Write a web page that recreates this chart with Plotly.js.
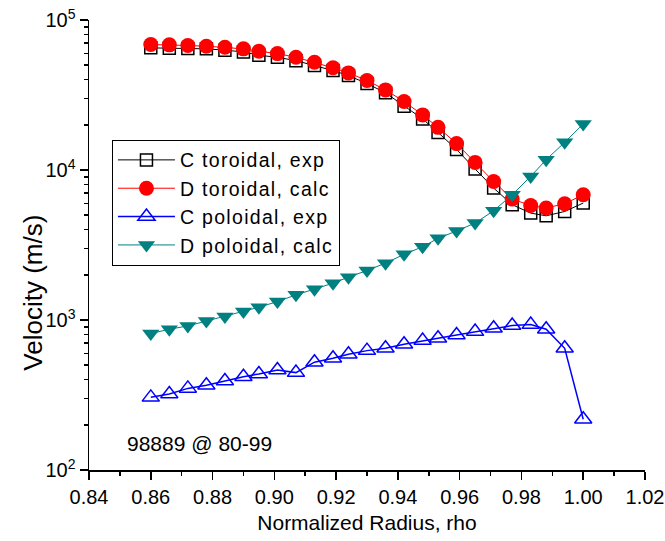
<!DOCTYPE html>
<html>
<head>
<meta charset="utf-8">
<script src="https://cdn.plot.ly/plotly-3.0.1.min.js"></script>
<style>
html,body{margin:0;padding:0;background:#fff;}
#chart{width:665px;height:541px;}
.legendtext{letter-spacing:1.3px;}
</style>
</head>
<body>
<div id="chart"></div>
<script>
// Normalized radius (rho) of each profile point
const rho = [0.860, 0.866, 0.872, 0.878, 0.884, 0.890, 0.895, 0.901, 0.907, 0.913,
             0.919, 0.924, 0.930, 0.936, 0.942, 0.948, 0.953, 0.959, 0.965, 0.971,
             0.977, 0.983, 0.988, 0.994, 1.000];

// Velocities (m/s)
const cToroidalExp = [65200, 64800, 64500, 64200, 62900, 61300, 58200, 56400, 53600, 49700,
                      46000, 42600, 37700, 32700, 26600, 21900, 17800, 13700, 10150, 7580,
                      5870, 5160, 4950, 5290, 6020];
const dToroidalCalc = [68600, 68300, 67600, 66900, 65800, 64200, 61900, 59700, 56400, 52300,
                       48000, 44400, 39500, 34200, 28600, 23300, 19250, 15000, 11240, 8390,
                       6400, 5800, 5580, 5960, 6840];
const cPoloidalExp = [305, 321, 350, 367, 392, 419, 437, 464, 446, 523,
                      556, 591, 625, 648, 690, 729, 756, 795, 837, 882,
                      918, 932, 868, 648, 218];
const dPoloidalCalc = [812, 868, 913, 986, 1054, 1138, 1217, 1327, 1471, 1606,
                       1761, 1931, 2137, 2394, 2741, 3076, 3505, 3922, 4429, 5350,
                       6842, 9064, 11720, 15290, 20280];

const seriesNames = ["C toroidal, exp", "D toroidal, calc", "C poloidal, exp", "D poloidal, calc"];
const xTitle = "Normalized Radius, rho";
const yTitle = "Velocity (m/s)";
const noteText = "98889 @ 80-99";
const yTickVals = [100, 1000, 10000, 100000];
const yTickText = ["10<sup>2</sup>", "10<sup>3</sup>", "10<sup>4</sup>", "10<sup>5</sup>"];

const FONT = "Liberation Sans, Arial, sans-serif";

const traces = [
  {x: rho, y: cToroidalExp, name: seriesNames[0], mode: "lines+markers", type: "scatter",
   line: {color: "#000000", width: 1},
   marker: {symbol: "square-open", size: 12, color: "#000000", line: {width: 1.5, color: "#000000"}}},
  {x: rho, y: dToroidalCalc, name: seriesNames[1], mode: "lines+markers", type: "scatter",
   line: {color: "#FF0000", width: 1},
   marker: {symbol: "circle", size: 15, color: "#FF0000"}},
  {x: rho, y: cPoloidalExp, name: seriesNames[2], mode: "lines+markers", type: "scatter",
   line: {color: "#0000FF", width: 1.5},
   marker: {symbol: "triangle-up-open", size: 15, color: "#0000FF", line: {width: 1.5, color: "#0000FF"}}},
  {x: rho, y: dPoloidalCalc, name: seriesNames[3], mode: "lines+markers", type: "scatter",
   line: {color: "#008080", width: 1},
   marker: {symbol: "triangle-down", size: 15, color: "#008080"}}
];

const minorY = [];
for (let e = 2; e < 5; e++) for (let m = 2; m <= 9; m++) minorY.push(m * Math.pow(10, e));

const layout = {
  width: 665, height: 541,
  margin: {l: 89, r: 20, t: 20, b: 71, pad: 0},
  paper_bgcolor: "#ffffff", plot_bgcolor: "#ffffff",
  font: {family: FONT, size: 20, color: "#000000"},
  showlegend: true,
  legend: {x: 0.0413, y: 0.734, xanchor: "left", yanchor: "top",
           bgcolor: "#ffffff", bordercolor: "#000000", borderwidth: 1,
           font: {family: FONT, size: 19.5, color: "#000000"}, itemwidth: 57},
  xaxis: {
    range: [0.84, 1.02], tick0: 0.84, dtick: 0.02, tickformat: ".2f",
    showline: true, linecolor: "#000000", linewidth: 1.5, mirror: false,
    ticks: "outside", ticklen: 8, tickwidth: 1.5, tickcolor: "#000000",
    minor: {dtick: 0.01, ticks: "outside", ticklen: 4, tickwidth: 1.5, tickcolor: "#000000", showgrid: false},
    showgrid: false, zeroline: false,
    tickfont: {family: FONT, size: 20},
    title: {text: xTitle, font: {family: FONT, size: 21}, standoff: 9}
  },
  yaxis: {
    type: "log", range: [2, 5], tickmode: "array", tickvals: yTickVals, ticktext: yTickText,
    showline: true, linecolor: "#000000", linewidth: 1.5, mirror: false,
    ticks: "outside", ticklen: 8, tickwidth: 1.5, tickcolor: "#000000",
    minor: {tickvals: minorY, ticks: "outside", ticklen: 4, tickwidth: 1.5, tickcolor: "#000000", showgrid: false},
    showgrid: false, zeroline: false,
    tickfont: {family: FONT, size: 20}
  },
  annotations: [
    {text: noteText, xref: "paper", yref: "paper", x: 0.064, y: 0.0585,
     xanchor: "left", yanchor: "middle", showarrow: false,
     font: {family: FONT, size: 21, color: "#000000"}},
    {text: yTitle, xref: "paper", yref: "paper", x: -0.10, y: 0.395,
     xanchor: "center", yanchor: "middle", textangle: -90, showarrow: false,
     font: {family: FONT, size: 26, color: "#000000"}}
  ]
};

Plotly.newPlot("chart", traces, layout, {staticPlot: true, displayModeBar: false});
</script>
</body>
</html>
